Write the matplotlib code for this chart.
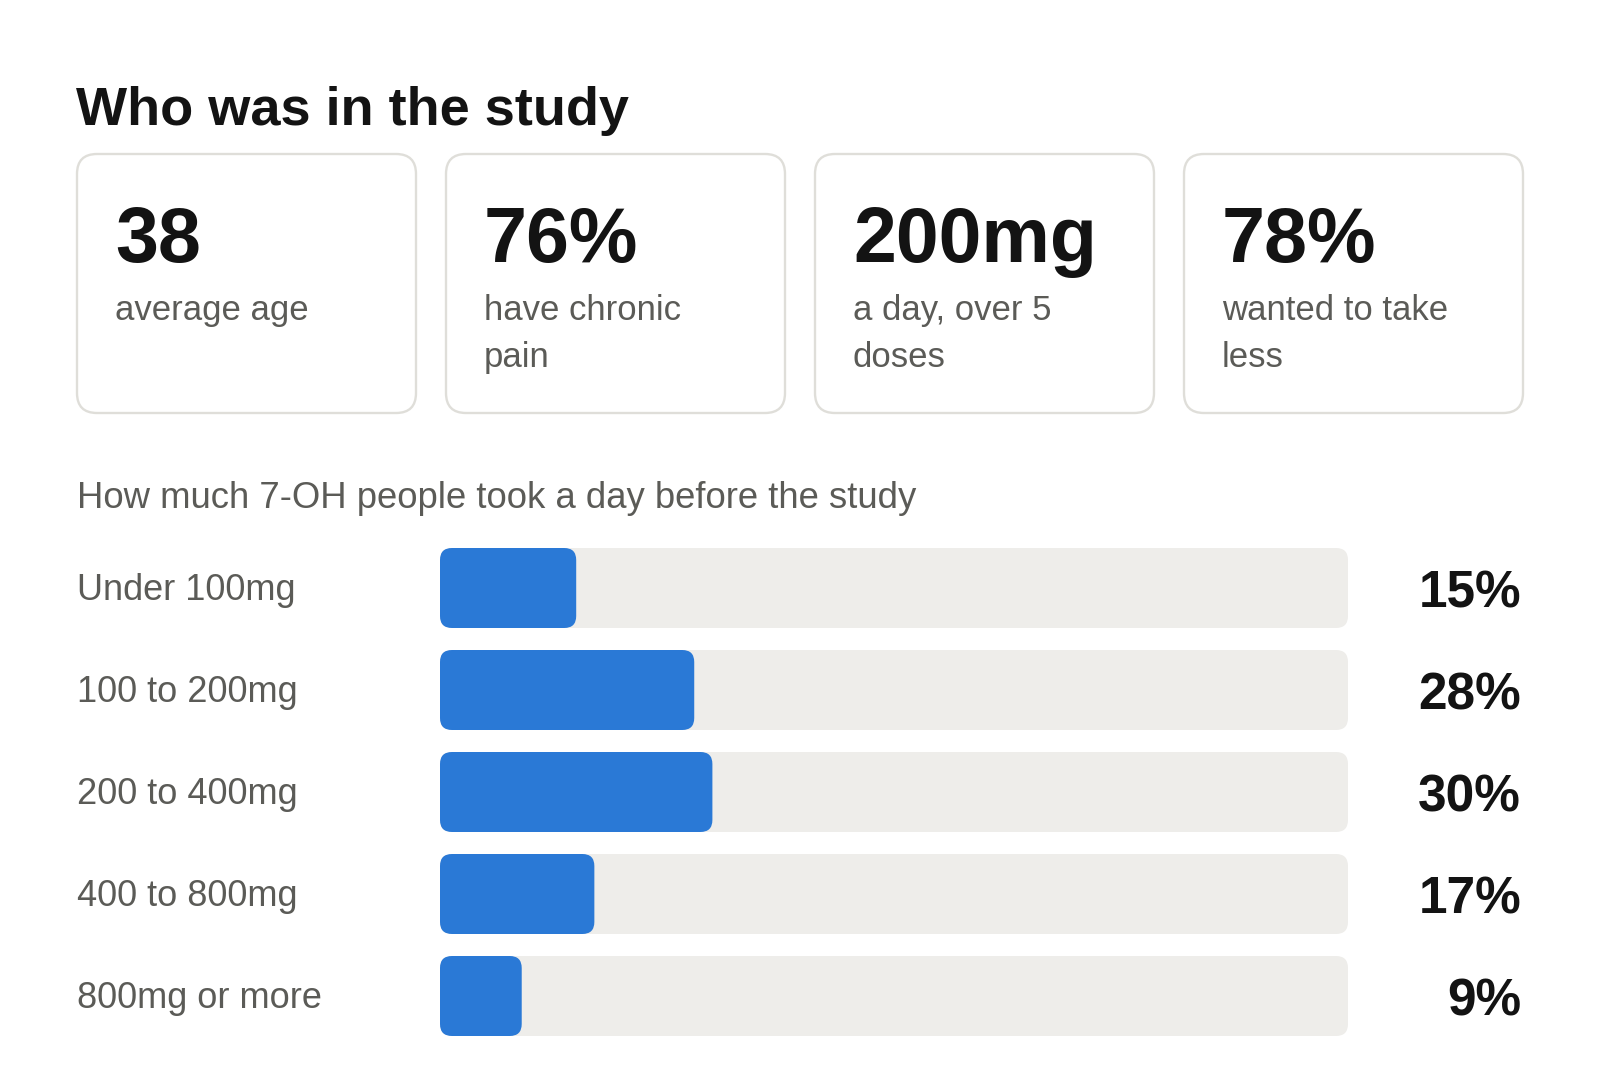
import numpy as np
import matplotlib
matplotlib.use('Agg')
import matplotlib.pyplot as plt
from matplotlib.patches import FancyBboxPatch

plt.rcParams["font.family"] = ["Liberation Sans", "DejaVu Sans"]

# Data
title = "Who was in the study"
stat_values = ["38", "76%", "200mg", "78%"]
stat_labels = ["average age", "have chronic\npain", "a day, over 5\ndoses", "wanted to take\nless"]

chart_title = "How much 7-OH people took a day before the study"
categories = ["Under 100mg", "100 to 200mg", "200 to 400mg", "400 to 800mg", "800mg or more"]
shares = [15, 28, 30, 17, 9]

DARK = "#131313"
GREY = "#5b5b57"
BLUE = "#2a79d6"
TRACK = "#eeedea"
BORDER = "#dfded9"

W, H = 1600, 1076
fig = plt.figure(figsize=(W / 100, H / 100), dpi=100)
fig.patch.set_facecolor("white")

# Pixel-space axes for the header and cards
ax = fig.add_axes([0, 0, 1, 1])
ax.set_xlim(0, W)
ax.set_ylim(H, 0)
ax.axis("off")

ax.text(76, 125, title, fontsize=39, fontweight="bold", color=DARK, va="baseline", ha="left")

card_w, card_gap = 339, 30
card_top, card_h = 154, 259
for i, (val, lab) in enumerate(zip(stat_values, stat_labels)):
    x0 = 77 + i * (card_w + card_gap)
    card = FancyBboxPatch((x0, card_top), card_w, card_h,
                          boxstyle="round,pad=0,rounding_size=20",
                          facecolor="white", edgecolor=BORDER, linewidth=1.7)
    ax.add_patch(card)
    ax.text(x0 + 38, 262, val, fontsize=55.5, fontweight="bold", color=DARK, va="baseline", ha="left")
    for j, line in enumerate(lab.split("\n")):
        ax.text(x0 + 38, 320 + j * 47, line, fontsize=25, color=GREY, va="baseline", ha="left")

ax.text(77, 508, chart_title, fontsize=26.3, color=GREY, va="baseline", ha="left")

# Bar chart axes, placed over the track area
track_l, track_r = 440, 1348
row_top, row_step, bar_px = 548, 102, 80
n = len(categories)
half = bar_px / row_step / 2
y_top_px = row_top
y_bot_px = row_top + (n - 1) * row_step + bar_px
bax = fig.add_axes([track_l / W, 1 - y_bot_px / H, (track_r - track_l) / W, (y_bot_px - y_top_px) / H])
bax.set_xlim(0, 100)
bax.set_ylim(n - 1 + half, -half)
bax.axis("off")

px_x = (track_r - track_l) / 100.0          # pixels per x unit
px_y = float(row_step)                        # pixels per y unit
rad = 12
aspect = (rad / px_y) / (rad / px_x)

ypos = np.arange(n)
bh = bar_px / row_step

# track backgrounds and value bars
bars = bax.barh(ypos, shares, height=bh, color="none")
for y in ypos:
    bax.add_patch(FancyBboxPatch((0, y - bh / 2), 100, bh,
                                 boxstyle="round,pad=0,rounding_size=%f" % (rad / px_x),
                                 mutation_aspect=aspect, facecolor=TRACK, edgecolor="none"))
for rect in bars:
    bax.add_patch(FancyBboxPatch((rect.get_x(), rect.get_y()), rect.get_width(), rect.get_height(),
                                 boxstyle="round,pad=0,rounding_size=%f" % (rad / px_x),
                                 mutation_aspect=aspect, facecolor=BLUE, edgecolor="none", zorder=3))

label_x = (77 - track_l) / px_x
value_x = (1521 - track_l) / px_x
for y, cat, v in zip(ypos, categories, shares):
    bax.text(label_x, y + 12 / px_y, cat, fontsize=26, color=GREY, va="baseline", ha="left", clip_on=False)
    bax.text(value_x, y + 20 / px_y, "%d%%" % v, fontsize=37, fontweight="bold", color=DARK,
             va="baseline", ha="right", clip_on=False)

fig.savefig("out.png", dpi=100, facecolor="white")
plt.close(fig)
